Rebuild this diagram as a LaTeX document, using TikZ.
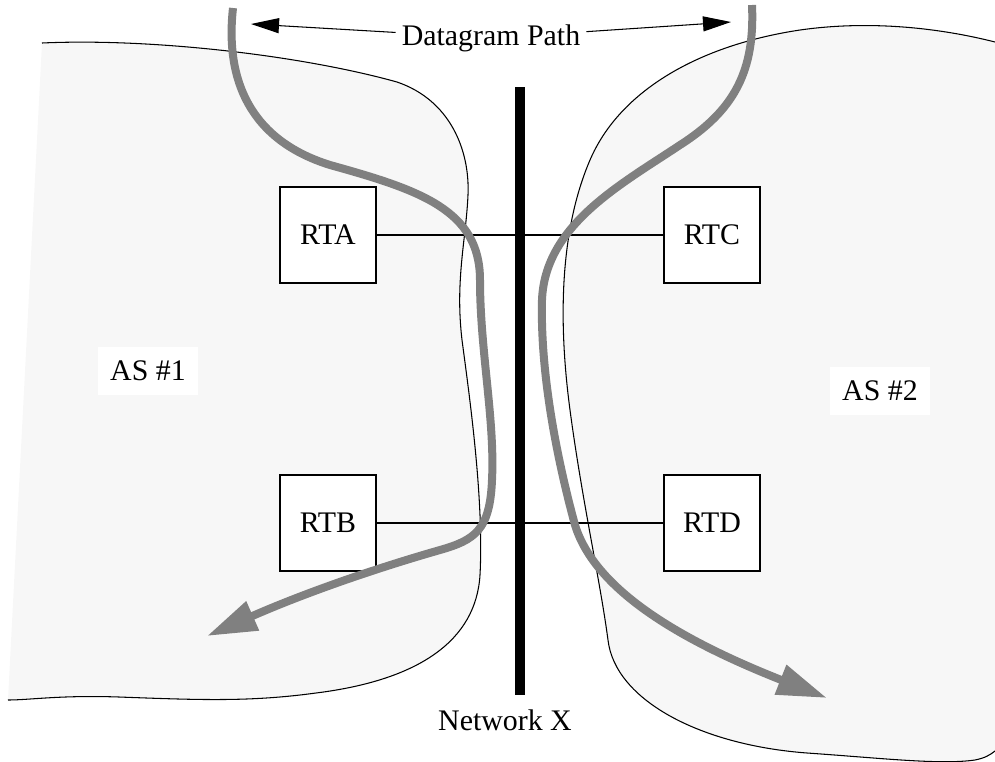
\documentclass[tikz,border=0pt]{standalone}
\usepackage{fontspec}
\setmainfont{Liberation Serif}
\usetikzlibrary{arrows.meta,positioning}
\definecolor{asgray}{RGB}{247,247,247}
\newcommand{\asone}{(42,43) .. controls (150,38) and (300,55) .. (397,82)
  .. controls (450,100) and (470,150) .. (468,195)
  .. controls (466,240) and (455,280) .. (462,340)
  .. controls (470,400) and (484,500) .. (480,575)
  .. controls (476,640) and (420,680) .. (316,693)
  .. controls (250,702) and (200,700) .. (119,697)
  .. controls (60,695) and (30,700) .. (8,700)}
\newcommand{\astwo}{(995,42) .. controls (940,28) and (870,20) .. (800,30)
  .. controls (700,45) and (620,90) .. (590,160)
  .. controls (560,230) and (558,320) .. (570,410)
  .. controls (582,500) and (600,580) .. (608,640)
  .. controls (615,700) and (700,745) .. (807,753)
  .. controls (880,758) and (940,765) .. (975,760)
  .. controls (985,758) and (990,755) .. (995,751)}

\begin{document}
\begin{tikzpicture}[x=0.2mm,y=-0.2mm,font=\fontsize{17}{20}\selectfont,
  router/.style={draw,fill=white,line width=0.6pt,minimum size=19.2mm,inner sep=0pt},
  aslabel/.style={fill=white,inner xsep=2.4mm,minimum height=9.6mm},
  dgpath/.style={draw=gray,line width=1.6mm,-{Triangle[length=10mm,width=6mm]}}]
\useasboundingbox (0,0) rectangle (995,761);
% the two autonomous systems
\fill[asgray] \asone -- cycle;
\draw[line width=0.6pt] \asone;
\fill[asgray] \astwo -- (995,42) -- cycle;
\draw[line width=0.6pt] \astwo;
% routers
\node[router] (rta) at (328,235) {RTA};
\node[router] (rtb) at (328,523) {RTB};
\node[router] (rtc) at (712,235) {RTC};
\node[router] (rtd) at (712,523) {RTD};
\path[draw,line width=0.6pt]
(rta) edge (rtc)
(rtb) edge (rtd);
% network X
\coordinate (nxtop) at (520,87);
\coordinate (nxbot) at (520,695);
\draw[line width=2mm] (nxtop) -- (nxbot);
\node (netx) at (505,720) {Network X};
% datagram path
\draw[dgpath] (233,8) .. controls (225,80) and (250,140) .. (330,165)
  .. controls (420,190) and (480,210) .. (480,280)
  .. controls (480,350) and (495,420) .. (492,480)
  .. controls (490,530) and (475,540) .. (440,550)
  .. controls (370,570) and (300,595) .. (207,636);
\draw[dgpath] (752,5) .. controls (755,70) and (735,110) .. (680,145)
  .. controls (620,185) and (545,225) .. (542,300)
  .. controls (540,380) and (560,470) .. (575,525)
  .. controls (595,590) and (680,640) .. (827,698);
\node (dg) at (491,38) {Datagram Path};
\coordinate (dgl) at (251,24);
\coordinate (dgr) at (731,22);
\path[draw,line width=0.6pt,-{Triangle[length=5.6mm,width=3mm]}]
(dg) edge (dgl)
(dg) edge (dgr);
% AS labels
\node[aslabel] (as1) at (148,371) {AS \#1};
\node[aslabel] (as2) at (880,391) {AS \#2};
\end{tikzpicture}
\end{document}
